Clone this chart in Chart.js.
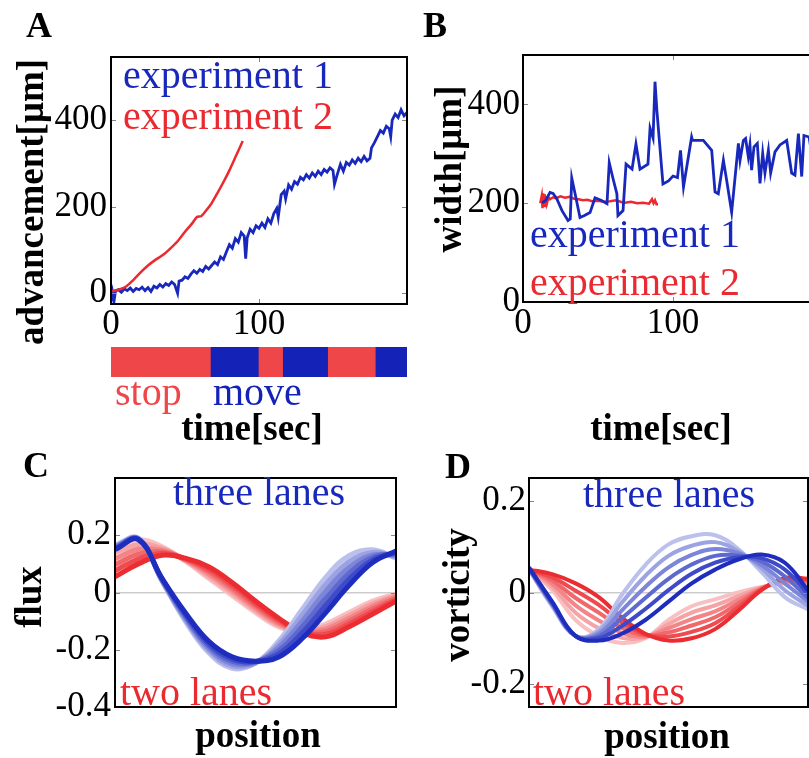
<!DOCTYPE html>
<html><head><meta charset="utf-8">
<script src="https://cdn.jsdelivr.net/npm/chart.js@4.4.1/dist/chart.umd.min.js"></script>
<style>
html,body{margin:0;padding:0;width:809px;height:758px;overflow:hidden;background:#fff;}
canvas{position:absolute;left:0;top:0;}
</style></head><body>
<canvas id="cA" width="809" height="758"></canvas>
<canvas id="cAbar" width="809" height="758"></canvas>
<canvas id="cB" width="840" height="758"></canvas>
<canvas id="cC" width="809" height="758"></canvas>
<canvas id="cD" width="809" height="758"></canvas>
<script>
// ---------- DATA ----------
// Panel A: advancement [um] vs time [sec]
const tA1 = [0,1,2,3,5,7,9,11,13,15,17,19,21,23,25,27,29,31,33,35,37,39,41,43,45,46,48,50,52,54,56,58,60,62,64,66,68,70,72,74,76,78,80,82,84,86,88,90,91,92,94,96,98,100,102,104,106,108,110,112,113,115,117,118,120,122,124,126,128,130,132,134,136,138,140,142,144,146,148,150,151,153,155,157,159,161,163,165,167,169,171,173,175,176,178,180,182,184,186,188,189,190,192,194,196,198,200];
const vA1 = [-18,2,-20,5,8,2,10,6,12,4,11,8,14,6,13,4,16,12,20,14,22,18,26,20,0,28,30,38,34,44,52,46,55,50,62,56,64,72,66,84,78,96,112,104,126,118,140,132,80,128,148,140,156,150,162,152,172,162,184,196,176,228,236,218,250,240,258,252,268,262,274,266,278,270,282,274,286,280,290,284,252,276,298,282,302,296,308,300,312,304,316,306,312,336,348,362,376,370,386,380,362,400,414,406,424,410,418];
const tA2 = [0,5,10,15,20,25,30,35,40,45,50,55,58,61,64,68,72,76,80,84,89];
const vA2 = [4,8,15,30,48,64,77,88,103,120,142,162,176,178,190,208,232,257,284,314,352];
// stop / move phases (experiment 1)
const phaseStart = [0,67.6,100,116.4,146.8,179];
const phaseEnd   = [67.6,100,116.4,146.8,179,200];
const phaseKind  = ['stop','move','stop','move','stop','move'];
// Panel B: width [um] vs time [sec]
const tB1 = [12.7,15,18,20,22.5,26,30,31.5,32.5,35,38,41,44.7,48,52,56,57.5,60,62.6,63.3,66.7,68.7,72.7,75.3,78,83.3,84.7,86.7,88,89.3,93.3,97,100,103,105,107,112.4,113,120.2,125.8,128,130.2,133.6,135.8,139.1,143.6,144.7,146.9,148.4,150.2,151.3,152.4,154,156.2,158,159.8,161.3,163.6,165.1,168,171.3,175.8,179.1,181.3,183.6,185.8,187.3,190.7,193,195];
const vB1 = [201,205,222,220,209,185,165,168,251,215,171,175,181,211,206,199,282,250,219,175,185,279,269,320,269,279,352,332,446,386,239,245,255,252,307,233,334,327,327,307,223,219,287,246,182,321,287,327,331,294,318,267,314,321,240,301,261,307,261,304,318,327,261,257,341,254,337,334,290,285];
const tB2 = [11.5,12.5,13,13.5,14,14.5,15,15.5,16,17,18,20,22,25,28,31,34,37,40,43,46,50,54,58,62,66,68,72,76,80,84,86,87,88,89,90];
const vB2 = [200,215,190,220,195,218,192,214,200,212,208,212,210,214,211,213,209,208,206,207,204,205,203,204,206,202,201,203,200,201,199,208,200,206,198,198];
// Panels C, D: profiles vs position (curves ordered light -> dark)
const position = [0,0.083,0.167,0.25,0.333,0.417,0.5,0.583,0.667,0.75,0.833,0.917,1];
const fluxThreeLanes = [
  [0.165,0.19,0.04,-0.10,-0.21,-0.265,-0.247,-0.169,-0.058,0.053,0.129,0.149,0.12],
  [0.162,0.189,0.042,-0.094,-0.202,-0.257,-0.246,-0.18,-0.078,0.028,0.108,0.14,0.125],
  [0.159,0.188,0.044,-0.088,-0.194,-0.249,-0.244,-0.191,-0.099,0.004,0.087,0.131,0.13],
  [0.156,0.187,0.046,-0.082,-0.186,-0.241,-0.243,-0.203,-0.119,-0.021,0.067,0.123,0.135],
  [0.153,0.186,0.048,-0.076,-0.178,-0.233,-0.241,-0.214,-0.14,-0.045,0.046,0.114,0.14],
  [0.15,0.185,0.05,-0.07,-0.17,-0.225,-0.24,-0.225,-0.16,-0.07,0.025,0.105,0.145]
];
const fluxTwoLanes = [
  [0.16,0.185,0.16,0.11,0.05,-0.01,-0.07,-0.12,-0.135,-0.11,-0.07,-0.03,-0.005],
  [0.139,0.168,0.154,0.112,0.058,-0.001,-0.062,-0.114,-0.136,-0.119,-0.08,-0.039,-0.01],
  [0.118,0.151,0.148,0.114,0.066,0.008,-0.054,-0.108,-0.137,-0.128,-0.09,-0.048,-0.015],
  [0.097,0.134,0.142,0.116,0.074,0.017,-0.046,-0.102,-0.138,-0.137,-0.1,-0.057,-0.02],
  [0.076,0.117,0.136,0.118,0.082,0.026,-0.038,-0.096,-0.139,-0.146,-0.11,-0.066,-0.025],
  [0.055,0.1,0.13,0.12,0.09,0.035,-0.03,-0.09,-0.14,-0.155,-0.12,-0.075,-0.03]
];
const vortThreeLanes = [
  [0.05,-0.03,-0.095,-0.08,-0.005,0.06,0.105,0.123,0.125,0.095,0.045,-0.01,-0.037],
  [0.051,-0.028,-0.095,-0.085,-0.022,0.036,0.08,0.102,0.11,0.09,0.053,0.005,-0.029],
  [0.052,-0.026,-0.095,-0.09,-0.039,0.012,0.055,0.082,0.095,0.086,0.06,0.02,-0.02],
  [0.053,-0.024,-0.095,-0.095,-0.056,-0.012,0.03,0.061,0.08,0.081,0.068,0.035,-0.012],
  [0.054,-0.022,-0.095,-0.1,-0.073,-0.036,0.005,0.041,0.065,0.077,0.075,0.05,-0.003],
  [0.055,-0.02,-0.095,-0.105,-0.09,-0.06,-0.02,0.02,0.05,0.072,0.083,0.065,0.005]
];
const vortTwoLanes = [
  [0.05,0.005,-0.06,-0.095,-0.11,-0.1,-0.06,-0.03,-0.015,0.0,0.012,0.02,0.02],
  [0.05,0.012,-0.044,-0.078,-0.099,-0.098,-0.069,-0.044,-0.028,-0.008,0.011,0.022,0.022],
  [0.05,0.019,-0.028,-0.061,-0.088,-0.096,-0.078,-0.058,-0.041,-0.016,0.009,0.025,0.024],
  [0.05,0.026,-0.012,-0.044,-0.077,-0.094,-0.087,-0.072,-0.054,-0.024,0.008,0.027,0.026],
  [0.05,0.033,0.004,-0.027,-0.066,-0.092,-0.096,-0.086,-0.067,-0.032,0.006,0.03,0.028],
  [0.05,0.04,0.02,-0.01,-0.055,-0.09,-0.105,-0.1,-0.08,-0.04,0.005,0.032,0.03]
];
// tick values / labels
const ticksAx = [0,100], ticksAy = [0,200,400];
const ticksBx = [0,100], ticksBy = [0,200,400];
const ticksCy = [-0.4,-0.2,0,0.2], labelsCy = ['-0.4','-0.2','0','0.2'];
const ticksDy = [-0.2,0,0.2], labelsDy = ['-0.2','0','0.2'];

// ---------- STYLE ----------
const BLUE = 'rgb(24,40,188)', RED = 'rgb(234,42,48)';
const BAR_RED = 'rgb(239,70,73)', BAR_BLUE = 'rgb(20,34,184)';
const SERIF = '"Liberation Serif", "Times New Roman", serif';
const shade = [0.3,0.44,0.58,0.72,0.86,1];
function mix(rgb, f){ return 'rgb(' + rgb.map(c => Math.round(255 - (255 - c) * f)).join(',') + ')'; }
const BLUE_RGB = [30,45,190], RED_RGB = [235,45,50];

Chart.defaults.font.family = SERIF;
Chart.defaults.color = '#000';

function annotPlugin(items){
  return { id: 'annot', afterDraw(chart){
    const ctx = chart.ctx;
    items.forEach(it => {
      ctx.save();
      ctx.font = it.font; ctx.fillStyle = it.color || '#000';
      ctx.textAlign = it.align || 'left'; ctx.textBaseline = 'alphabetic';
      ctx.translate(it.x, it.y);
      if (it.rot) ctx.rotate(it.rot * Math.PI / 180);
      ctx.fillText(it.t, 0, 0);
      ctx.restore();
    });
  }};
}
function framePlugin(xt, yt){
  return { id: 'frame', afterDatasetsDraw(chart){
    const ctx = chart.ctx, a = chart.chartArea;
    ctx.save();
    ctx.strokeStyle = '#888'; ctx.lineWidth = 1;
    const L = 5;
    xt.forEach(v => { const p = Math.round(chart.scales.x.getPixelForValue(v)) + 0.5;
      ctx.beginPath(); ctx.moveTo(p, a.bottom); ctx.lineTo(p, a.bottom - L);
      ctx.moveTo(p, a.top); ctx.lineTo(p, a.top + L); ctx.stroke(); });
    yt.forEach(v => { const p = Math.round(chart.scales.y.getPixelForValue(v)) + 0.5;
      ctx.beginPath(); ctx.moveTo(a.left, p); ctx.lineTo(a.left + L, p);
      ctx.moveTo(a.right, p); ctx.lineTo(a.right - L, p); ctx.stroke(); });
    ctx.strokeStyle = '#000'; ctx.lineWidth = 2;
    ctx.strokeRect(a.left, a.top, a.right - a.left, a.bottom - a.top);
    ctx.restore();
  }};
}
const base = { responsive: false, animation: false, devicePixelRatio: 1, events: [],
  plugins: { legend: {display: false}, tooltip: {enabled: false} } };
const tickFont = {family: SERIF, size: 35};
// x axis occupies the band below the plot down to the canvas bottom; y axis the band left of the plot
function xScale(min, max, vals, padding, bandH){
  return { type: 'linear', min, max, afterFit: s => { s.height = bandH; },
    afterBuildTicks: s => { s.ticks = vals.map(v => ({value: v})); },
    grid: {display: false, drawTicks: false}, border: {display: false},
    ticks: {font: tickFont, color: '#000', padding, maxRotation: 0, autoSkip: false} };
}
function yScale(min, max, vals, labels, padding, zeroLine, bandW){
  return { type: 'linear', min, max, afterFit: s => { s.width = bandW; },
    afterBuildTicks: s => { s.ticks = vals.map(v => ({value: v})); },
    grid: zeroLine ? {drawTicks: false, lineWidth: 1.5,
      color: c => (c.tick && c.tick.value === 0) ? 'rgba(0,0,0,0.2)' : 'rgba(0,0,0,0)'} : {display: false, drawTicks: false},
    border: {display: false},
    ticks: {font: tickFont, color: '#000', padding, autoSkip: false,
      callback: v => { const i = vals.indexOf(v); return labels ? labels[i] : String(v); }} };
}
const F_LEG = '40px ' + SERIF, F_TIT = 'bold 37px ' + SERIF, F_LET = 'bold 36px ' + SERIF;

// ---------- PANEL A ----------
new Chart(document.getElementById('cA'), {
  type: 'line',
  data: { datasets: [
    { data: tA2.map((t,i) => ({x: t, y: vA2[i]})), borderColor: RED, borderWidth: 2.5, pointRadius: 0, tension: 0.2 },
    { data: tA1.map((t,i) => ({x: t, y: vA1[i]})), borderColor: BLUE, borderWidth: 2.8, pointRadius: 0, tension: 0 }
  ]},
  options: Object.assign({}, base, {
    layout: {padding: {left: 0, top: 57, right: 809 - 407, bottom: 0}},
    scales: { x: xScale(0, 200, ticksAx, 0, 758 - 304), y: yScale(-25, 546, ticksAy, null, 4, false, 111) }
  }),
  plugins: [framePlugin(ticksAx, ticksAy), annotPlugin([
    {t: 'A', x: 26, y: 37, font: F_LET},
    {t: 'advancement[μm]', x: 43, y: 202, font: F_TIT, rot: -90, align: 'center'},
    {t: 'experiment 1', x: 123, y: 88, font: F_LEG, color: BLUE},
    {t: 'experiment 2', x: 123, y: 129, font: F_LEG, color: RED}
  ])]
});

// ---------- PANEL A phase bar ----------
new Chart(document.getElementById('cAbar'), {
  type: 'bar',
  data: { labels: ['phase'], datasets: [{
    data: phaseStart.map((s,i) => ({x: [s, phaseEnd[i]], y: 'phase'})),
    backgroundColor: phaseKind.map(k => k === 'stop' ? BAR_RED : BAR_BLUE),
    borderWidth: 0, barPercentage: 1, categoryPercentage: 1 }]},
  options: Object.assign({}, base, {
    indexAxis: 'y',
    layout: {padding: {left: 111, top: 347, right: 809 - 407, bottom: 758 - 377}},
    scales: { x: {type: 'linear', min: 0, max: 200, display: false}, y: {display: false} }
  }),
  plugins: [annotPlugin([
    {t: 'stop', x: 115, y: 405, font: F_LEG, color: BAR_RED},
    {t: 'move', x: 213, y: 405, font: F_LEG, color: BAR_BLUE},
    {t: 'time[sec]', x: 252, y: 440, font: F_TIT, align: 'center'}
  ])]
});

// ---------- PANEL B ----------
new Chart(document.getElementById('cB'), {
  type: 'line',
  data: { datasets: [
    { data: tB1.map((t,i) => ({x: t, y: vB1[i]})), borderColor: BLUE, borderWidth: 2.8, pointRadius: 0, tension: 0 },
    { data: tB2.map((t,i) => ({x: t, y: vB2[i]})), borderColor: RED, borderWidth: 2.5, pointRadius: 0, tension: 0 }
  ]},
  options: Object.assign({}, base, {
    layout: {padding: {left: 0, top: 55, right: 840 - 823, bottom: 0}},
    scales: { x: xScale(0, 200, ticksBx, 1, 758 - 302), y: yScale(0, 500, ticksBy, null, 3, false, 523) }
  }),
  plugins: [framePlugin(ticksBx, ticksBy), annotPlugin([
    {t: 'B', x: 423, y: 37, font: F_LET},
    {t: 'width[μm]', x: 461, y: 169, font: F_TIT, rot: -90, align: 'center'},
    {t: 'experiment 1', x: 530, y: 247, font: F_LEG, color: BLUE},
    {t: 'experiment 2', x: 530, y: 295, font: F_LEG, color: RED},
    {t: 'time[sec]', x: 661, y: 440, font: F_TIT, align: 'center'}
  ])]
});

// ---------- PANELS C, D ----------
function families(blue, red, width){
  const ds = [];
  for (let k = blue.length - 1; k >= 0; k--)
    ds.push({ data: position.map((p,i) => ({x: p, y: blue[k][i]})), borderColor: mix(BLUE_RGB, shade[k]), borderWidth: width, pointRadius: 0, tension: 0.4 });
  for (let k = red.length - 1; k >= 0; k--)
    ds.push({ data: position.map((p,i) => ({x: p, y: red[k][i]})), borderColor: mix(RED_RGB, shade[k]), borderWidth: width, pointRadius: 0, tension: 0.4 });
  return ds;
}
new Chart(document.getElementById('cC'), {
  type: 'line',
  data: { datasets: families(fluxThreeLanes, fluxTwoLanes, 5) },
  options: Object.assign({}, base, {
    layout: {padding: {left: 0, top: 478, right: 809 - 396, bottom: 758 - 707}},
    scales: { x: {type: 'linear', min: 0, max: 1, display: false},
              y: yScale(-0.4, 0.4, ticksCy, labelsCy, 4, true, 115) }
  }),
  plugins: [framePlugin([], ticksCy), annotPlugin([
    {t: 'C', x: 23, y: 477, font: F_LET},
    {t: 'flux', x: 41, y: 597, font: F_TIT, rot: -90, align: 'center'},
    {t: 'three lanes', x: 173, y: 505, font: F_LEG, color: BLUE},
    {t: 'two lanes', x: 120, y: 705, font: F_LEG, color: RED},
    {t: 'position', x: 258, y: 747, font: F_TIT, align: 'center'}
  ])]
});
new Chart(document.getElementById('cD'), {
  type: 'line',
  data: { datasets: families(vortThreeLanes, vortTwoLanes, 4) },
  options: Object.assign({}, base, {
    layout: {padding: {left: 0, top: 478, right: 809 - 808, bottom: 758 - 707}},
    scales: { x: {type: 'linear', min: 0, max: 1, display: false},
              y: yScale(-0.25, 0.25, ticksDy, labelsDy, 3, true, 529) }
  }),
  plugins: [framePlugin([], ticksDy), annotPlugin([
    {t: 'D', x: 445, y: 478, font: F_LET},
    {t: 'vorticity', x: 469, y: 595, font: F_TIT, rot: -90, align: 'center'},
    {t: 'three lanes', x: 583, y: 507, font: F_LEG, color: BLUE},
    {t: 'two lanes', x: 533, y: 705, font: F_LEG, color: RED},
    {t: 'position', x: 667, y: 748, font: F_TIT, align: 'center'}
  ])]
});
</script>
</body></html>
